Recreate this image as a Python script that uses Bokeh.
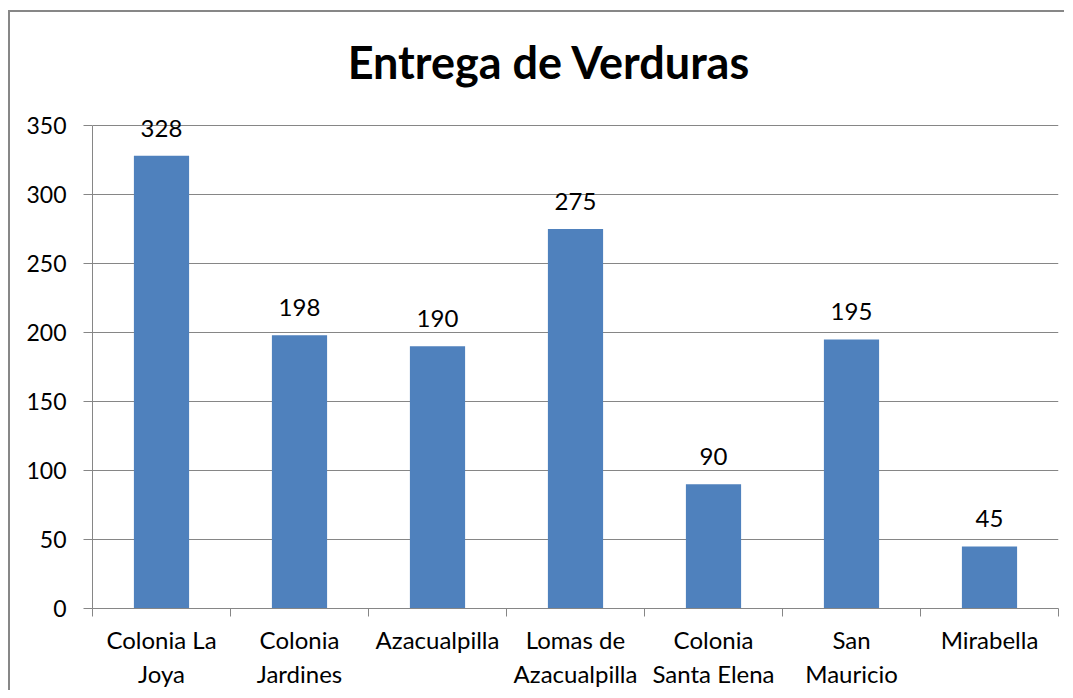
import numpy as np
from bokeh.plotting import figure
from bokeh.models import ColumnDataSource, FixedTicker, LabelSet, Label, Range1d
from bokeh.core.properties import value
from bokeh.embed import file_html
from bokeh.resources import INLINE

title_text = "Entrega de Verduras"
categories = ["Colonia La\nJoya", "Colonia\nJardines", "Azacualpilla", "Lomas de\nAzacualpilla",
              "Colonia\nSanta Elena", "San\nMauricio", "Mirabella"]
values = [328, 198, 190, 275, 90, 195, 45]
y_ticks = [0, 50, 100, 150, 200, 250, 300, 350]
y_max = 350

FONT = "Lato"
GRAY = "#868686"
BLUE = "#4F81BD"

n = len(categories)
centers = [i + 0.5 for i in range(n)]
bounds = list(range(n + 1))

src = ColumnDataSource(dict(x=centers, top=values, label=[str(v) for v in values]))

FRAME_H = 596
PLOT_H = 483  # pixels from 0 to 350
y_end = y_max * FRAME_H / PLOT_H

p = figure(frame_width=966, frame_height=FRAME_H,
           min_border_left=82, min_border_right=8, min_border_top=0, min_border_bottom=84,
           x_range=Range1d(0, n), y_range=Range1d(0, y_end),
           output_backend="svg", toolbar_location=None)
p.styles = {"box-shadow": "-2px -2px 0px 0px #878787",
            "margin-left": "10px", "margin-top": "12px", "margin-bottom": "-30px"}
p.border_fill_color = "white"

p.vbar(x="x", top="top", width=0.4, source=src, color=BLUE, line_color=None)

labels = LabelSet(x="x", y="top", text="label", source=src, y_offset=19,
                  text_align="center", text_baseline="bottom",
                  text_font=value(FONT), text_font_size="24px", text_color="black")
p.add_layout(labels)

title = Label(x=3.31, y=y_max + 64 * y_max / PLOT_H, text=title_text,
              text_align="center", text_baseline="middle",
              text_font=FONT, text_font_size="45px", text_font_style="bold",
              text_color="black")
p.add_layout(title)

p.outline_line_color = None
p.xgrid.grid_line_color = None
p.ygrid.grid_line_color = GRAY
p.ygrid.grid_line_width = 1
p.ygrid.ticker = FixedTicker(ticks=y_ticks)

xa = p.xaxis[0]
xa.ticker = FixedTicker(ticks=centers, minor_ticks=bounds)
xa.major_label_overrides = {c: lab for c, lab in zip(centers, categories)}
xa.major_tick_line_color = None
xa.major_tick_out = 0
xa.major_tick_in = 0
xa.minor_tick_line_color = GRAY
xa.minor_tick_out = 8
xa.minor_tick_in = 0
xa.axis_line_color = GRAY
xa.major_label_standoff = 8
xa.major_label_text_font = FONT
xa.major_label_text_font_size = "24px"
xa.major_label_text_color = "black"
xa.major_label_text_line_height = 1.2

ya = p.yaxis[0]
ya.ticker = FixedTicker(ticks=y_ticks)
ya.bounds = (0, y_max)
ya.axis_line_color = GRAY
ya.major_tick_line_color = GRAY
ya.major_tick_out = 9
ya.major_tick_in = 0
ya.minor_tick_line_color = None
ya.major_label_standoff = 17
ya.major_label_text_font = FONT
ya.major_label_text_font_size = "23px"
ya.major_label_text_color = "black"

open("out.html", "w").write(file_html(p, INLINE))
